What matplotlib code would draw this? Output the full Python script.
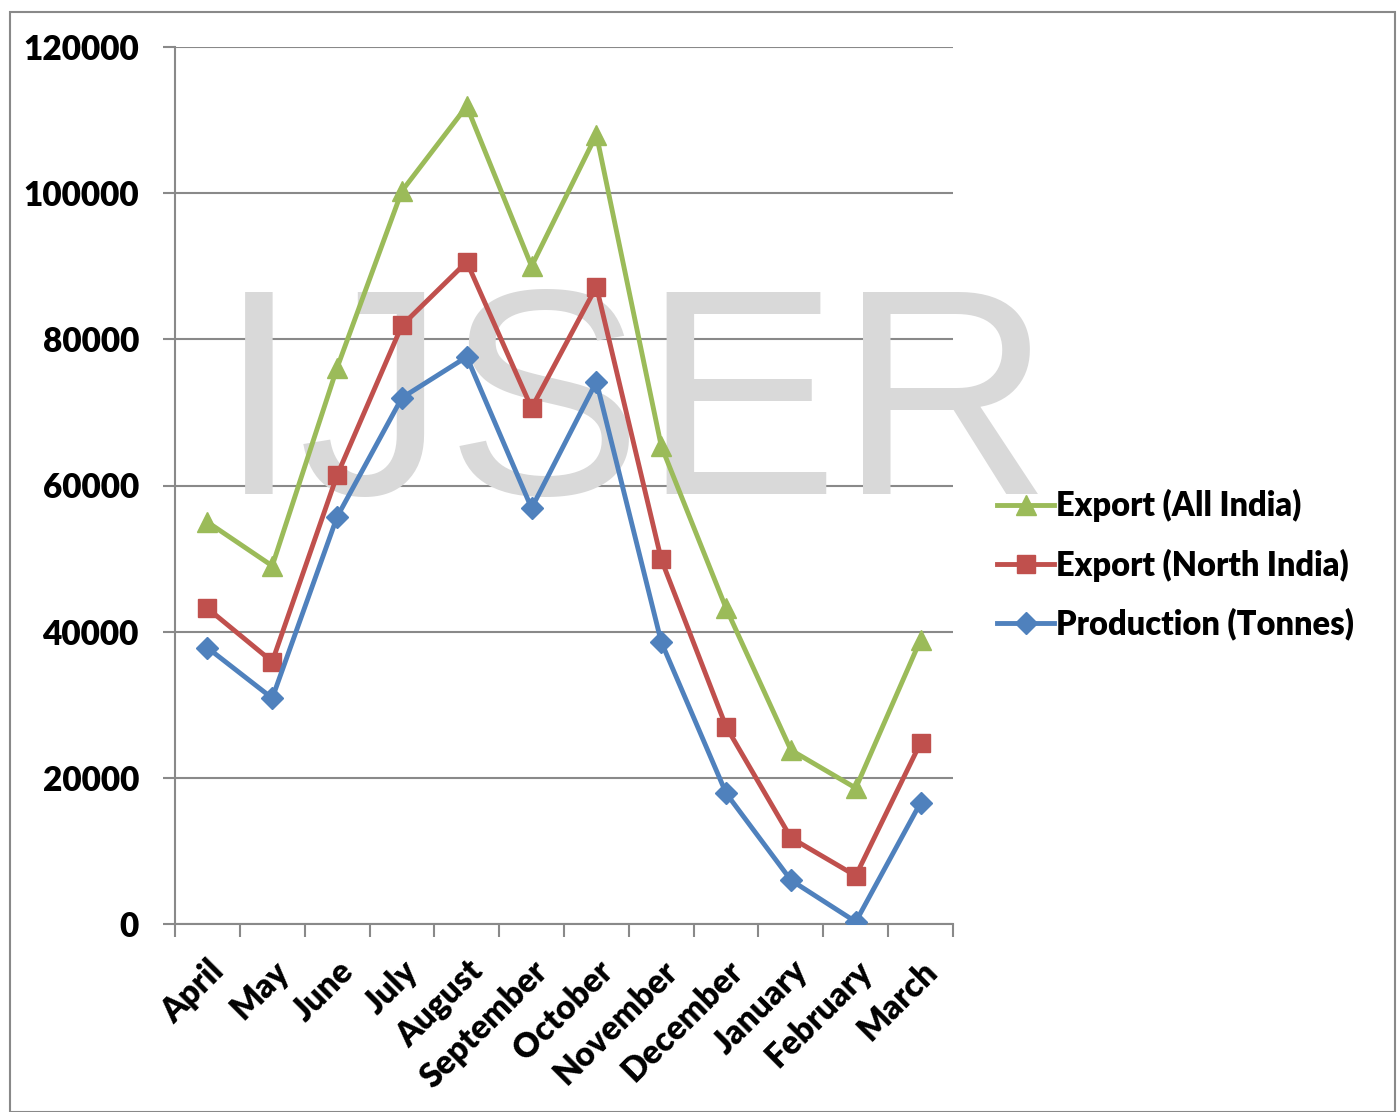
import matplotlib
matplotlib.use('Agg')
import matplotlib.pyplot as plt
from matplotlib.patches import Rectangle
import numpy as np

months = ['April', 'May', 'June', 'July', 'August', 'September', 'October',
          'November', 'December', 'January', 'February', 'March']
export_all = [55000, 49000, 76100, 100300, 111900, 90000, 108000,
              65400, 43200, 23800, 18600, 38900]
export_north = [43200, 35900, 61400, 81900, 90600, 70600, 87200,
                49900, 27000, 11800, 6600, 24800]
production = [37800, 30900, 55700, 72000, 77600, 56900, 74200,
              38600, 17900, 6000, 300, 16600]
yticks = [0, 20000, 40000, 60000, 80000, 100000, 120000]

plt.rcParams['font.family'] = ['Lato', 'DejaVu Sans']

fig = plt.figure(figsize=(14, 11.12), dpi=100)
ax = fig.add_axes([175/1400, 1-924/1112, (953-175)/1400, (924-47)/1112])

x = np.arange(len(months))
ax.plot(x, export_all, color='#9BBB59', lw=3.5, marker='^', ms=15,
        label='Export (All India)', zorder=4)
ax.plot(x, export_north, color='#C0504D', lw=3.5, marker='s', ms=13,
        label='Export (North India)', zorder=4)
ax.plot(x, production, color='#4F81BD', lw=3.5, marker='D', ms=11,
        label='Production (Tonnes)', zorder=4)

ax.set_xlim(-0.5, len(months)-0.5)
ax.set_ylim(0, 120000)
ax.set_yticks(yticks)
ax.set_yticklabels([str(v) for v in yticks], fontsize=24, fontweight='heavy')
ax.yaxis.grid(True, color='#898989', lw=1.5)
ax.set_axisbelow(True)

ax.set_xticks(x)
ax.set_xticklabels(months, rotation=45, ha='right', rotation_mode='anchor',
                   fontsize=24, fontweight='heavy')
ax.set_xticks(np.arange(len(months)+1)-0.5, minor=True)
ax.tick_params(axis='x', which='major', length=0, pad=22)
ax.tick_params(axis='x', which='minor', length=9, width=1.5, color='#898989')
ax.tick_params(axis='y', length=9, width=1.5, color='#898989', pad=17)

for s in ['top', 'right']:
    ax.spines[s].set_visible(False)
for s in ['left', 'bottom']:
    ax.spines[s].set_color('#898989')
    ax.spines[s].set_linewidth(1.5)

# watermark, behind the lines
ax.text(635/1400, 1-418/1112, 'IJSER', fontsize=212, color='#d9d9d9',
        family='Liberation Sans', ha='center', va='center', zorder=2,
        transform=fig.transFigure, clip_on=False)

fig.legend(loc='center left', bbox_to_anchor=(968/1400, 1-565/1112),
           frameon=False, prop={'weight': 'heavy', 'size': 23.5},
           handlelength=1.75, handletextpad=0.05, labelspacing=0.8)

fig.patches.append(Rectangle((10/1400, 0), 1385/1400, 1-12/1112,
                             transform=fig.transFigure, fill=False,
                             edgecolor='#898989', lw=1.5))

fig.savefig('out.png', dpi=100)
